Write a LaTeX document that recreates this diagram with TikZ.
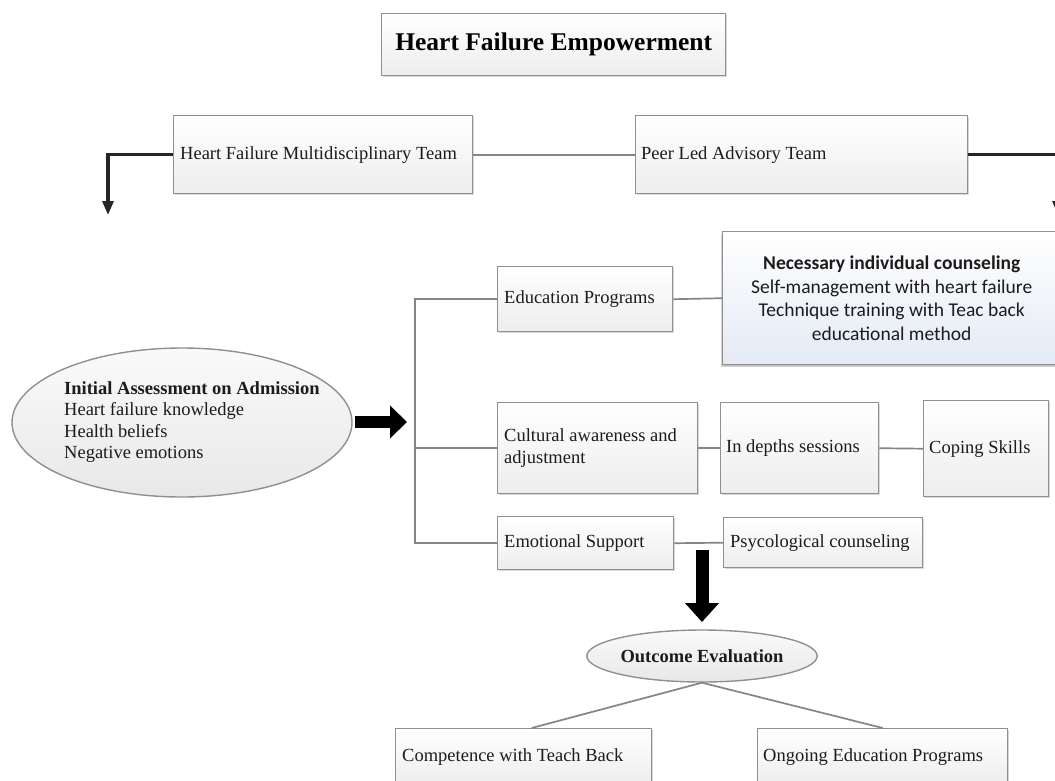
\documentclass[tikz,border=0pt]{standalone}
\usepackage{fontspec}
\setmainfont{Liberation Serif}
\newfontfamily\calib{Carlito}
\usetikzlibrary{arrows.meta,shadows,shapes.geometric}
\definecolor{bordc}{HTML}{909090}
\definecolor{linec}{HTML}{858585}
\definecolor{txtc}{HTML}{1C1C1C}
\definecolor{necc}{HTML}{E4EAF4}
\begin{document}
\begin{tikzpicture}[x=1pt,y=-1pt,
  box/.style={draw=bordc, line width=1.4pt, top color=white, bottom color=gray!14,
    drop shadow={shadow xshift=1.5pt, shadow yshift=-1.5pt, fill=black!30},
    anchor=north west, inner sep=0pt},
  txt/.style={font=\fontsize{18.5}{21.5}\selectfont, text=txtc, inner sep=0pt, anchor=west, align=left},
  ell/.style={ellipse, draw=bordc, line width=1.4pt, top color=gray!4, bottom color=gray!18,
    inner sep=0pt, font=\fontsize{18.5}{21.5}\selectfont, text=txtc},
  conn/.style={draw=linec, line width=1.7pt},
  thickarr/.style={draw=black!85, line width=3.2pt, -{Triangle[length=14pt,width=11pt]}},
  blockarr/.style={draw=black, line width=#1},
]
\useasboundingbox (0,0) rectangle (1055,780);
\fill[white] (0,0) rectangle (1055,780);
\clip (0,0) rectangle (1055,780);

% title
\node[box, minimum width=344pt, minimum height=62pt, text=black,
      font=\fontsize{25.5}{28}\selectfont\bfseries] (title) at (381,13) {Heart Failure Empowerment};

% teams
\node[box, minimum width=299pt, minimum height=78pt] (hfmt) at (173,115) {};
\node[txt] (hfmtt) at ([xshift=7pt]hfmt.west) {Heart Failure Multidisciplinary Team};
\node[box, minimum width=332pt, minimum height=78pt] (plat) at (635,115) {};
\node[txt] (platt) at ([xshift=6pt]plat.west) {Peer Led Advisory Team};
\draw[conn] (hfmt.east) -- (plat.west);
\coordinate (la) at (108,215);
\coordinate (ra) at (1058,215);
\draw[thickarr] (hfmt.west) -| (la);
\draw[thickarr] (plat.east) -| (ra);

% initial assessment
\node[ell, minimum width=340pt, minimum height=149pt] (ia) at (182,422.5) {};
\node[txt] (iat) at (64,422) {\textbf{Initial Assessment on Admission}\\Heart failure knowledge\\Health beliefs\\Negative emotions};
\coordinate (bas) at (355,422);
\coordinate (bae) at (407,422);
\draw[blockarr=12pt, -{Triangle[length=17pt,width=32pt]}] (bas) -- (bae);

% branches
\node[box, minimum width=175pt, minimum height=65pt] (edu) at (497,266) {};
\node[txt] (edut) at ([xshift=7pt]edu.west) {Education Programs};
\node[box, minimum width=338pt, minimum height=133pt, top color=white, bottom color=necc,
      drop shadow={shadow xshift=-1.5pt, shadow yshift=-2pt, fill=black!35}] (nec) at (722,231) {};
\node[font=\calib\fontsize{19.5}{23.7}\selectfont, text=txtc, align=center, inner sep=0pt] (nect) at (nec.center)
  {\textbf{Necessary individual counseling}\\Self-management with heart failure\\Technique training with Teac back\\educational method};
\draw[conn] (edu.east) -- (nec.west);

\node[box, minimum width=200pt, minimum height=91pt] (cult) at (497,402) {};
\node[txt] (cultt) at ([xshift=7pt]cult.west) {Cultural awareness and\\adjustment};
\node[box, minimum width=158pt, minimum height=91pt] (ind) at (720,402) {};
\node[txt] (indt) at ([xshift=6pt]ind.west) {In depths sessions};
\node[box, minimum width=125pt, minimum height=96pt] (cope) at (923,400) {};
\node[txt] (copet) at ([xshift=6pt]cope.west) {Coping Skills};
\draw[conn] (cult.east) -- (ind.west);
\draw[conn] (ind.east) -- (cope.west);

\node[box, minimum width=176pt, minimum height=53pt] (emo) at (497,516) {};
\node[txt] (emot) at ([xshift=7pt]emo.west) {Emotional Support};
\node[box, minimum width=199pt, minimum height=50pt] (psy) at (723,517) {};
\node[txt] (psyt) at ([xshift=7pt]psy.west) {Psycological counseling};
\draw[conn] (emo.east) -- (psy.west);

\coordinate (bx) at (415,0);
\draw[conn] (edu.west) -- (edu.west -| bx) -- (emo.west -| bx) -- (emo.west);
\draw[conn] (cult.west) -- (cult.west -| bx);

% outcome
\coordinate (das) at (702,550);
\coordinate (dae) at (702,622);
\draw[blockarr=13pt, -{Triangle[length=19pt,width=33pt]}] (das) -- (dae);
\node[ell, minimum width=216pt, minimum height=52pt, font=\fontsize{18.5}{21.5}\selectfont\bfseries] (oe) at (702,656) {Outcome Evaluation};

\node[box, minimum width=256pt, minimum height=56pt] (comp) at (395,728) {};
\node[txt] (compt) at ([xshift=7pt]comp.west) {Competence with Teach Back};
\node[box, minimum width=250pt, minimum height=56pt] (ong) at (757,728) {};
\node[txt] (ongt) at ([xshift=6pt]ong.west) {Ongoing Education Programs};
\draw[conn] (oe.south) -- ([xshift=8pt]comp.north);
\draw[conn] (oe.south) -- (ong.north);
\end{tikzpicture}
\end{document}
